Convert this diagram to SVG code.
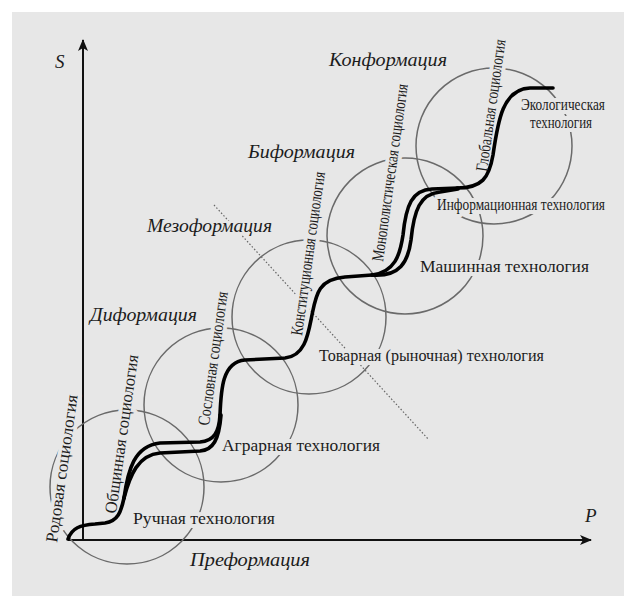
<svg xmlns="http://www.w3.org/2000/svg" width="624" height="596" viewBox="0 0 624 596">
<defs>
<style>
.ring{fill:none;stroke:#6a6a6a;stroke-width:1.5}
.lbl{font-family:"Liberation Serif","Times New Roman",serif;font-size:17px;fill:#1c1c1c;paint-order:stroke;stroke:#e7e7e7;stroke-width:8;stroke-linejoin:round}
.it{font-family:"Liberation Serif","Times New Roman",serif;font-size:19px;font-style:italic;fill:#1c1c1c;paint-order:stroke;stroke:#e7e7e7;stroke-width:6;stroke-linejoin:round}
.axis{fill:none;stroke:#111;stroke-width:2}
.curve{fill:none;stroke:#000;stroke-width:3.6;stroke-linecap:round;stroke-linejoin:round}
</style>
<marker id="arr" viewBox="0 0 12 10" refX="11" refY="5" markerWidth="12" markerHeight="10" markerUnits="userSpaceOnUse" orient="auto">
<path d="M0 0 L12 5 L0 10 L3 5 Z" fill="#111"/>
</marker>
</defs>
<rect x="0" y="0" width="624" height="596" fill="#ffffff"/>
<rect x="12" y="12" width="612" height="584" fill="#e7e7e7"/>
<g id="axes">
<line class="axis" x1="83" y1="541" x2="83" y2="40" marker-end="url(#arr)"/>
<line class="axis" x1="68" y1="540" x2="591" y2="540" marker-end="url(#arr)"/>
<text class="it" x="55" y="68">S</text>
<text class="it" x="585" y="522">P</text>
</g>
<line id="divider" x1="214" y1="205" x2="429" y2="440" stroke="#666" stroke-width="1.2" stroke-dasharray="1.5 2"/>
<g id="preformation">
<circle class="ring" cx="127" cy="487" r="77"/>
<text class="it" x="190" y="566" textLength="120" lengthAdjust="spacingAndGlyphs">Преформация</text>
<text class="lbl" transform="translate(57,543) rotate(-82)" textLength="149" lengthAdjust="spacingAndGlyphs">Родовая социология</text>
<text class="lbl" transform="translate(116,514) rotate(-82)" textLength="160" lengthAdjust="spacingAndGlyphs">Общинная социология</text>
<text class="lbl" x="133" y="524" textLength="142" lengthAdjust="spacingAndGlyphs">Ручная технология</text>
</g>
<g id="diformation">
<circle class="ring" cx="221" cy="405" r="77"/>
<text class="it" x="90" y="321" textLength="107" lengthAdjust="spacingAndGlyphs">Диформация</text>
<text class="lbl" transform="translate(209,426) rotate(-82)" textLength="135" lengthAdjust="spacingAndGlyphs">Сословная социология</text>
<text class="lbl" x="222" y="451" textLength="158" lengthAdjust="spacingAndGlyphs">Аграрная технология</text>
</g>
<g id="mesoformation">
<circle class="ring" cx="309" cy="317" r="77"/>
<text class="it" x="147" y="232" textLength="125" lengthAdjust="spacingAndGlyphs">Мезоформация</text>
<text class="lbl" transform="translate(302,336) rotate(-82)" textLength="165" lengthAdjust="spacingAndGlyphs">Конституционная социология</text>
<text class="lbl" x="319" y="361" textLength="225" lengthAdjust="spacingAndGlyphs">Товарная (рыночная) технология</text>
</g>
<g id="biformation">
<circle class="ring" cx="405" cy="236" r="78"/>
<text class="it" x="248" y="158" textLength="107" lengthAdjust="spacingAndGlyphs">Биформация</text>
<text class="lbl" transform="translate(383,262) rotate(-82)" textLength="179" lengthAdjust="spacingAndGlyphs">Монополистическая социология</text>
<text class="lbl" x="420" y="272" textLength="169" lengthAdjust="spacingAndGlyphs">Машинная технология</text>
</g>
<g id="conformation">
<circle class="ring" cx="494" cy="146" r="78"/>
<text class="it" x="329" y="66" textLength="118" lengthAdjust="spacingAndGlyphs">Конформация</text>
<text class="lbl" transform="translate(487,172) rotate(-82)" textLength="133" lengthAdjust="spacingAndGlyphs">Глобальная социология</text>
<text class="lbl" x="437" y="210" textLength="168" lengthAdjust="spacingAndGlyphs">Информационная технология</text>
<text class="lbl" x="521" y="110" textLength="84" lengthAdjust="spacingAndGlyphs">Экологическая</text>
<text class="lbl" x="530" y="128" textLength="62" lengthAdjust="spacingAndGlyphs">технология</text>
</g>
<g id="connectors">
<path class="curve" d="M 68 539 C 72 528, 80 525, 95 524 L 105 523 C 118 521, 121 512, 124 498"/>
<path class="curve" d="M 124 498 C 128 470, 134 446, 160 443 L 200 442 C 214 441, 219 432, 220 415"/>
<path class="curve" d="M 124 498 C 130 475, 138 455, 160 453 L 200 451 C 213 450, 219 440, 221 415"/>
<path class="curve" d="M 220 415 C 221 390, 222 362, 245 360 L 285 358 C 305 356, 308 335, 312 315 C 316 295, 318 279, 345 277 L 372 275"/>
<path class="curve" d="M 372 275 C 395 272, 400 255, 403 235 C 406 205, 412 190, 432 189 L 458 188"/>
<path class="curve" d="M 372 275 C 400 277, 408 262, 411 240 C 414 210, 420 194, 440 192 L 458 189"/>
<path class="curve" d="M 457 188 C 482 188, 489 178, 493 155 C 498 120, 503 89, 530 88 L 553 88"/>
</g>
</svg>
